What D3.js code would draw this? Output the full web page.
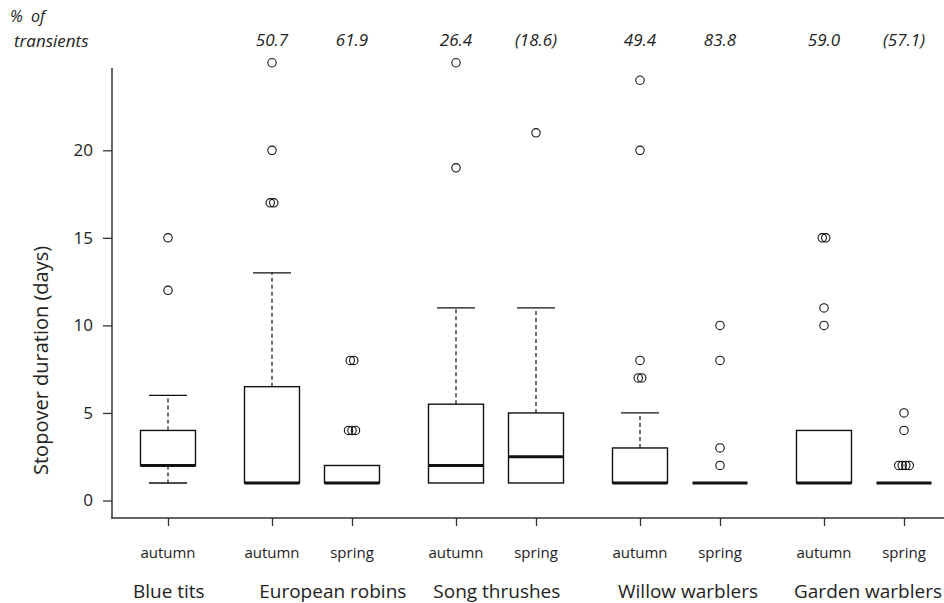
<!DOCTYPE html>
<html>
<head>
<meta charset="utf-8">
<script src="https://cdn.jsdelivr.net/npm/d3@7"></script>
<style>
  html, body { margin: 0; padding: 0; background: #fff; }
  svg { display: block; font-family: "Open Sans", "Noto Sans", sans-serif; }
</style>
</head>
<body>
<svg id="chart" width="944" height="603"></svg>
<script>
// ---- data ----
const seasons = ["autumn", "autumn", "spring", "autumn", "spring", "autumn", "spring", "autumn", "spring"];
const positions = [1, 2.3, 3.3, 4.6, 5.6, 6.9, 7.9, 9.2, 10.2];
const whiskerLow = [1, 1, 1, 1, 1, 1, 1, 1, 1];
const q1 = [2, 1, 1, 1, 1, 1, 1, 1, 1];
const median = [2, 1, 1, 2, 2.5, 1, 1, 1, 1];
const q3 = [4, 6.5, 2, 5.5, 5, 3, 1, 4, 1];
const whiskerHigh = [6, 13, 2, 11, 11, 5, 1, 4, 1];
const outliers = [
  [12, 15],
  [17, 17, 20, 25],
  [4, 4, 4, 8, 8],
  [19, 25],
  [21],
  [7, 7, 8, 20, 24],
  [2, 3, 8, 10],
  [10, 11, 15, 15],
  [2, 2, 2, 2, 4, 5]
];
const transients = ["", "50.7", "61.9", "26.4", "(18.6)", "49.4", "83.8", "59.0", "(57.1)"];
const species = ["Blue tits", "European robins", "Song thrushes", "Willow warblers", "Garden warblers"];
const yTicks = [0, 5, 10, 15, 20];

// ---- layout ----
const speciesLabelPos = [1.01, 3.06, 5.11, 7.5, 9.75];
const svg = d3.select("#chart");
const x = d3.scaleLinear().domain([0.3, 10.7]).range([112, 944]);
const y = d3.scaleLinear().domain([-1.0, 24.7]).range([518, 68]);
const boxW = 55, capW = 38, dupStep = 3.5;
const ink = "#111";

// axes
const yAxis = svg.append("g").attr("transform", "translate(112,0)")
  .call(d3.axisLeft(y).tickValues(yTicks).tickSize(9).tickPadding(10).tickSizeOuter(0));
yAxis.select(".domain").remove();
yAxis.selectAll(".tick line").attr("stroke", "#333").attr("stroke-width", 1.3);
yAxis.selectAll(".tick text").attr("font-size", 17).attr("fill", "#222")
  .attr("font-family", "'Open Sans', sans-serif");

svg.append("line").attr("x1", 112).attr("x2", 112).attr("y1", 68).attr("y2", 518.5)
  .attr("stroke", "#333").attr("stroke-width", 1.5);
svg.append("line").attr("x1", 111.3).attr("x2", 944).attr("y1", 518).attr("y2", 518)
  .attr("stroke", "#333").attr("stroke-width", 1.5);

const xAxis = svg.append("g").attr("transform", "translate(0,518)")
  .call(d3.axisBottom(x).tickValues(positions).tickSize(8).tickFormat(""));
xAxis.select(".domain").remove();
xAxis.selectAll(".tick line").attr("stroke", "#333").attr("stroke-width", 1.3);

// season labels
svg.append("g").selectAll("text").data(positions).join("text")
  .attr("x", d => x(d)).attr("y", 558)
  .attr("text-anchor", "middle").attr("font-size", 15).attr("fill", "#222")
  .text((d, i) => seasons[i]);

// species labels
svg.append("g").selectAll("text").data(species).join("text")
  .attr("x", (d, i) => x(speciesLabelPos[i])).attr("y", 598)
  .attr("text-anchor", "middle").attr("font-size", 19).attr("fill", "#222")
  .text(d => d);

// transient percentages
svg.append("g").selectAll("text").data(positions).join("text")
  .attr("x", d => x(d)).attr("y", 46)
  .attr("text-anchor", "middle").attr("font-size", 17).attr("font-style", "italic").attr("fill", "#222")
  .text((d, i) => transients[i]);

svg.append("text").attr("x", 10).attr("y", 22).attr("font-size", 16).attr("font-style", "italic")
  .attr("fill", "#222").style("white-space", "pre").text("%  of");
svg.append("text").attr("x", 14).attr("y", 47).attr("font-size", 17).attr("font-style", "italic")
  .attr("fill", "#222").text("transients");

// y axis title
svg.append("text").attr("transform", `translate(48,${y(8)}) rotate(-90)`)
  .attr("text-anchor", "middle").attr("font-size", 20).attr("fill", "#222")
  .text("Stopover duration (days)");

// boxes
const boxes = svg.append("g");
positions.forEach((p, i) => {
  const cx = x(p);
  const g = boxes.append("g");
  // whiskers
  if (whiskerHigh[i] > q3[i]) {
    g.append("line").attr("x1", cx).attr("x2", cx).attr("y1", y(q3[i])).attr("y2", y(whiskerHigh[i]))
      .attr("stroke", ink).attr("stroke-width", 1.2).attr("stroke-dasharray", "4,3");
    g.append("line").attr("x1", cx - capW / 2).attr("x2", cx + capW / 2)
      .attr("y1", y(whiskerHigh[i])).attr("y2", y(whiskerHigh[i])).attr("stroke", ink).attr("stroke-width", 1.3);
  }
  if (whiskerLow[i] < q1[i]) {
    g.append("line").attr("x1", cx).attr("x2", cx).attr("y1", y(q1[i])).attr("y2", y(whiskerLow[i]))
      .attr("stroke", ink).attr("stroke-width", 1.2).attr("stroke-dasharray", "4,3");
    g.append("line").attr("x1", cx - capW / 2).attr("x2", cx + capW / 2)
      .attr("y1", y(whiskerLow[i])).attr("y2", y(whiskerLow[i])).attr("stroke", ink).attr("stroke-width", 1.3);
  }
  // box
  if (q3[i] > q1[i]) {
    g.append("rect").attr("x", cx - boxW / 2).attr("width", boxW)
      .attr("y", y(q3[i])).attr("height", y(q1[i]) - y(q3[i]))
      .attr("fill", "#fff").attr("stroke", ink).attr("stroke-width", 1.4);
  }
  // median
  g.append("line").attr("x1", cx - boxW / 2).attr("x2", cx + boxW / 2)
    .attr("y1", y(median[i])).attr("y2", y(median[i]))
    .attr("stroke", ink).attr("stroke-width", 3);
  // outliers (duplicates drawn side by side)
  const counts = d3.rollup(outliers[i], v => v.length, d => d);
  const seen = new Map();
  outliers[i].forEach(v => {
    const n = counts.get(v);
    const k = seen.get(v) || 0;
    seen.set(v, k + 1);
    g.append("circle").attr("cx", cx + (k - (n - 1) / 2) * dupStep).attr("cy", y(v)).attr("r", 4.2)
      .attr("fill", "none").attr("stroke", ink).attr("stroke-width", 1.1);
  });
});
</script>
</body>
</html>
